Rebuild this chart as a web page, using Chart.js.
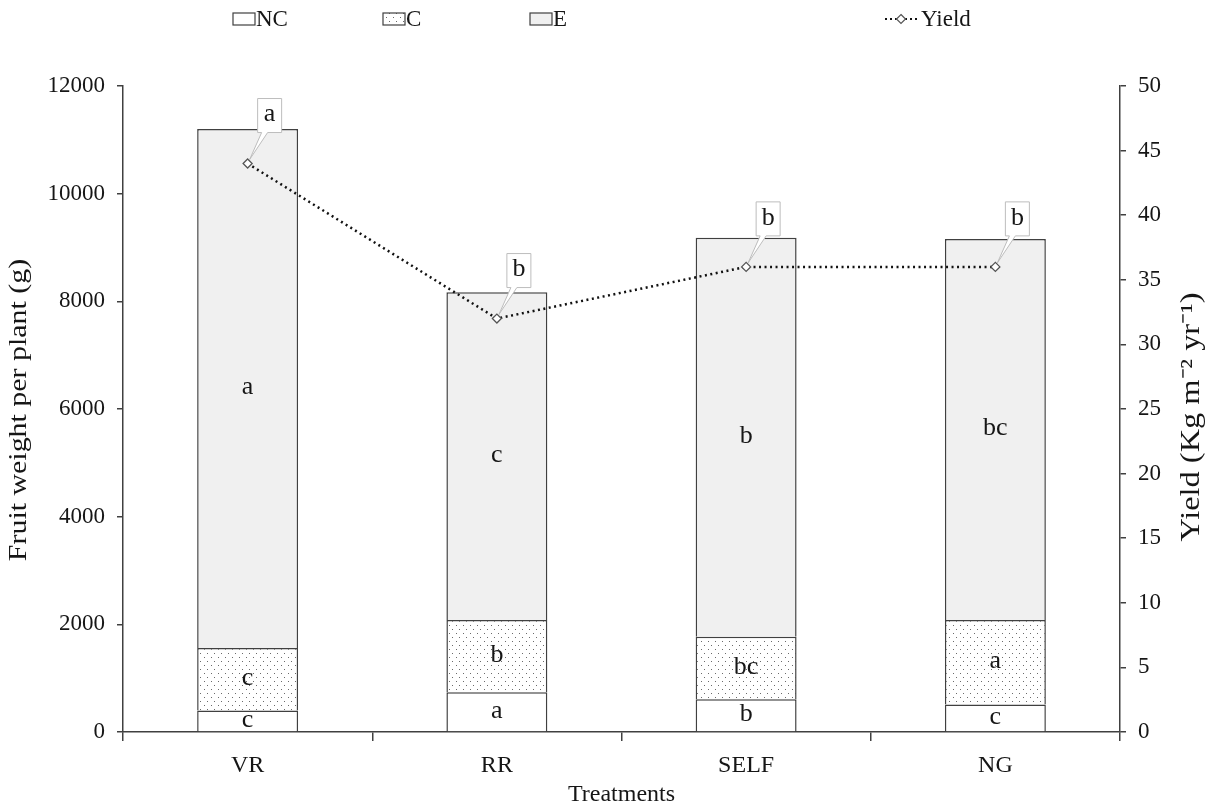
<!DOCTYPE html>
<html>
<head>
<meta charset="utf-8">
<script src="https://cdn.jsdelivr.net/npm/chart.js@4.4.0/dist/chart.umd.min.js"></script>
<style>
  html, body { margin: 0; padding: 0; background: #fff; }
  #wrap { width: 1211px; height: 809px; position: relative; }
</style>
</head>
<body>
<div id="wrap"><canvas id="chart"></canvas></div>
<script>
// === DATA ===
const treatments = ['VR', 'RR', 'SELF', 'NG'];
const ncWeight = [400, 740, 610, 510];
const cWeight = [1160, 1340, 1160, 1570];
const eWeight = [9640, 6090, 7410, 7080];
const yieldVals = [44, 32, 36, 36];

const ncLetters = ['c', 'a', 'b', 'c'];
const cLetters = ['c', 'b', 'bc', 'a'];
const eLetters = ['a', 'c', 'b', 'bc'];
const yieldLetters = ['a', 'b', 'b', 'b'];

const leftTicks = [0, 2000, 4000, 6000, 8000, 10000, 12000];
const rightTicks = [0, 5, 10, 15, 20, 25, 30, 35, 40, 45, 50];

const leftTitle = 'Fruit weight per plant (g)';
const rightTitle = 'Yield (Kg m\u207B\u00B2 yr\u207B\u00B9)';

const FONT = "'Liberation Serif', 'Times New Roman', serif";
const EDGE = '#404040';
const INK = '#161616';

// dotted fill for the C segment
function makeDots() {
  const c = document.createElement('canvas');
  c.width = 7; c.height = 8;
  const g = c.getContext('2d');
  g.fillStyle = '#ffffff';
  g.fillRect(0, 0, 7, 8);
  g.fillStyle = '#6a6a6a';
  g.fillRect(1, 1, 1, 1);
  g.fillRect(4, 5, 1, 1);
  return g.createPattern(c, 'repeat');
}
const ctx = document.getElementById('chart').getContext('2d');
const dots = makeDots();

// letters in the middle of each bar segment
const segmentLetters = {
  id: 'segmentLetters',
  afterDatasetsDraw(chart) {
    const g = chart.ctx;
    const sets = [ncLetters, cLetters, eLetters];
    g.save();
    g.font = '26px ' + FONT;
    g.fillStyle = INK;
    g.textAlign = 'center';
    g.textBaseline = 'middle';
    for (let d = 1; d <= 3; d++) {
      const meta = chart.getDatasetMeta(d);
      meta.data.forEach((bar, i) => {
        g.fillText(sets[d - 1][i], bar.x, (bar.y + bar.base) / 2 - 1);
      });
    }
    g.restore();
  }
};

// callout boxes above the yield points
const yieldCallouts = {
  id: 'yieldCallouts',
  afterDraw(chart) {
    const g = chart.ctx;
    const meta = chart.getDatasetMeta(0);
    g.save();
    meta.data.forEach((pt, i) => {
      const left = pt.x + 10, w = 24, bottom = pt.y - 31, h = 34;
      g.beginPath();
      g.moveTo(left, bottom);
      g.lineTo(left, bottom - h);
      g.lineTo(left + w, bottom - h);
      g.lineTo(left + w, bottom);
      g.lineTo(left + 10, bottom);
      g.lineTo(pt.x + 2, pt.y - 4);
      g.lineTo(left + 4, bottom);
      g.closePath();
      g.fillStyle = '#fff';
      g.fill();
      g.strokeStyle = '#bdbdbd';
      g.lineWidth = 1;
      g.stroke();
      g.font = '26px ' + FONT;
      g.fillStyle = INK;
      g.textAlign = 'center';
      g.textBaseline = 'middle';
      g.fillText(yieldLetters[i], left + w / 2, bottom - h / 2 - 1);
    });
    g.restore();
  }
};

// rotated axis titles, a little stretched along their length like the original
const axisTitles = {
  id: 'axisTitles',
  afterDraw(chart) {
    const g = chart.ctx;
    const put = (text, x, y, size, stretch) => {
      g.save();
      g.translate(x, y);
      g.rotate(-Math.PI / 2);
      g.scale(stretch, 1);
      g.font = size + 'px ' + FONT;
      g.fillStyle = INK;
      g.textAlign = 'center';
      g.textBaseline = 'middle';
      g.fillText(text, 0, 0);
      g.restore();
    };
    put(leftTitle, 19, 410, 26, 1.15);
    put(rightTitle, 1192, 417, 27, 1.2);
  }
};

// legend across the top
const topLegend = {
  id: 'topLegend',
  afterDraw(chart) {
    const g = chart.ctx;
    const ds = chart.data.datasets;
    const y = 19;
    const boxes = [[233, ds[1]], [383, ds[2]], [530, ds[3]]];
    g.save();
    g.font = '23px ' + FONT;
    g.textBaseline = 'middle';
    boxes.forEach(([x, d]) => {
      g.fillStyle = d.backgroundColor;
      g.fillRect(x, y - 6, 22, 12);
      g.strokeStyle = EDGE;
      g.lineWidth = 1.2;
      g.strokeRect(x, y - 6, 22, 12);
      g.fillStyle = INK;
      g.fillText(d.label, x + 23, y + 1);
    });
    // yield key
    g.strokeStyle = '#111';
    g.lineWidth = 2;
    g.setLineDash([2, 3]);
    g.beginPath();
    g.moveTo(885, y);
    g.lineTo(917, y);
    g.stroke();
    g.setLineDash([]);
    g.beginPath();
    g.moveTo(901, y - 4.5);
    g.lineTo(905.5, y);
    g.lineTo(901, y + 4.5);
    g.lineTo(896.5, y);
    g.closePath();
    g.fillStyle = '#fff';
    g.fill();
    g.strokeStyle = '#555';
    g.lineWidth = 1.2;
    g.stroke();
    g.fillStyle = INK;
    g.fillText(ds[0].label, 921, y + 1);
    g.restore();
  }
};

const plain = (v) => String(v);

new Chart(ctx, {
  type: 'bar',
  data: {
    labels: treatments,
    datasets: [
      {
        type: 'line',
        label: 'Yield',
        data: yieldVals,
        yAxisID: 'y2',
        borderColor: '#111',
        borderWidth: 2.5,
        borderDash: [2, 3.5],
        pointStyle: 'rectRot',
        pointRadius: 4.5,
        pointBackgroundColor: '#fff',
        pointBorderColor: '#555',
        pointBorderWidth: 1.3,
        tension: 0,
        order: 0
      },
      { label: 'NC', data: ncWeight, backgroundColor: '#ffffff', borderColor: EDGE, borderWidth: 1.5, stack: 's', yAxisID: 'y', order: 1 },
      { label: 'C', data: cWeight, backgroundColor: dots, borderColor: EDGE, borderWidth: 1.5, stack: 's', yAxisID: 'y', order: 1 },
      { label: 'E', data: eWeight, backgroundColor: '#f0f0f0', borderColor: EDGE, borderWidth: 1.5, stack: 's', yAxisID: 'y', order: 1 }
    ]
  },
  options: {
    responsive: true,
    maintainAspectRatio: false,
    animation: false,
    layout: { padding: { top: 86, bottom: 0, left: 0, right: 0 } },
    datasets: { bar: { barPercentage: 0.405, categoryPercentage: 1 } },
    plugins: { legend: { display: false }, tooltip: { enabled: false } },
    scales: {
      x: {
        stacked: true,
        grid: { display: true, drawOnChartArea: false, drawTicks: true, tickLength: 9, color: EDGE, lineWidth: 1.5, offset: true },
        border: { color: EDGE, width: 1.5 },
        ticks: { color: INK, font: { family: FONT, size: 24 }, padding: 10 },
        title: { display: true, text: 'Treatments', color: INK, font: { family: FONT, size: 24 }, padding: { top: 0, bottom: 0 } },
        afterFit: (s) => { s.height = 77; }
      },
      y: {
        stacked: true,
        position: 'left',
        min: 0, max: 12000,
        afterBuildTicks: (s) => { s.ticks = leftTicks.map(v => ({ value: v })); },
        grid: { drawOnChartArea: false, drawTicks: true, tickLength: 6, color: EDGE, lineWidth: 1.5 },
        border: { color: EDGE, width: 1.5 },
        ticks: { color: INK, font: { family: FONT, size: 23 }, padding: 12, callback: plain },
        afterFit: (s) => { s.width = 123; }
      },
      y2: {
        position: 'right',
        min: 0, max: 50,
        afterBuildTicks: (s) => { s.ticks = rightTicks.map(v => ({ value: v })); },
        grid: { drawOnChartArea: false, drawTicks: true, tickLength: 6, color: EDGE, lineWidth: 1.5 },
        border: { color: EDGE, width: 1.5 },
        ticks: { color: INK, font: { family: FONT, size: 23 }, padding: 12, callback: plain },
        afterFit: (s) => { s.width = 91; }
      }
    }
  },
  plugins: [segmentLetters, yieldCallouts, axisTitles, topLegend]
});
</script>
</body>
</html>
